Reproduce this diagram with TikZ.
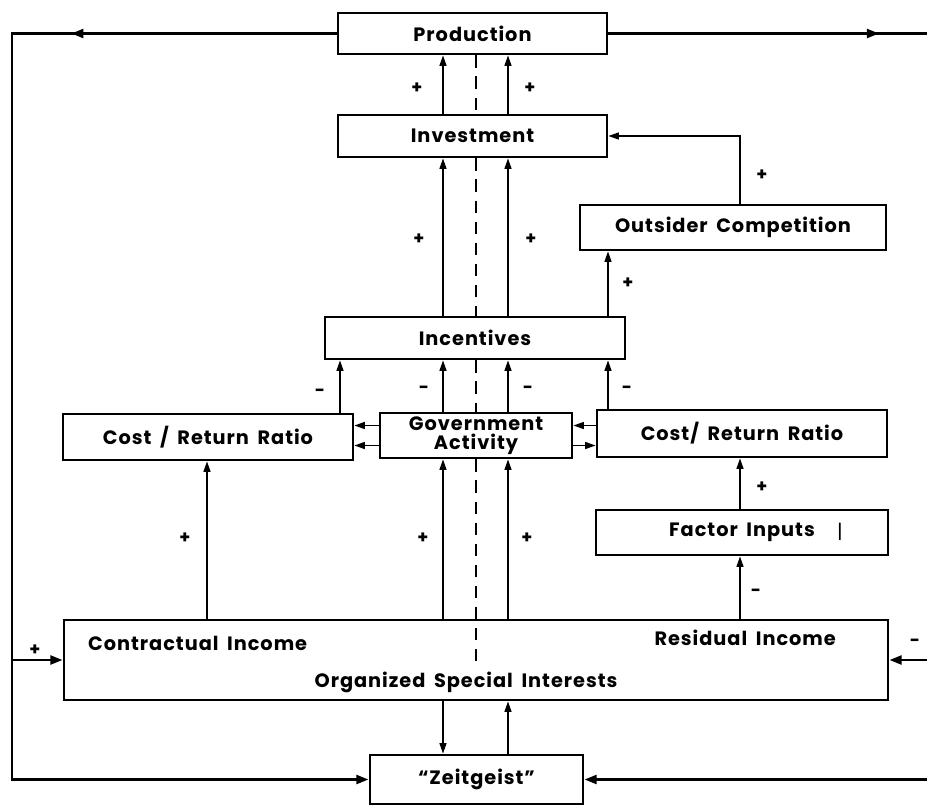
\documentclass[tikz,border=0pt]{standalone}
\usepackage{fontspec}
\setmainfont{Poppins}
\newfontfamily\boxfont{Poppins}[Ligatures=TeX, LetterSpace=5, WordSpace=1.7]
\usetikzlibrary{positioning}
\usetikzlibrary{calc}
\usetikzlibrary{arrows.meta}
\usetikzlibrary{decorations.markings}

\begin{document}
\begin{tikzpicture}[
    x=0.02cm, y=-0.02cm,
    boxtext/.style={font=\boxfont\bfseries\fontsize{11}{12}\selectfont},
    box/.style={draw, rectangle, line width=1.6pt, fill=white, inner sep=0pt, boxtext},
    link/.style={line width=0.8pt, -{Triangle[length=6pt,width=4pt]}},
    loopline/.style={line width=1.6pt},
    looptip/.style={-{Triangle[length=7pt,width=5pt]}},
    dashline/.style={line width=1.1pt, dash pattern=on 7pt off 5pt},
    sign/.style={inner sep=1pt, font=\bfseries\fontsize{10}{10}\selectfont},
    midarrow/.style={postaction={decorate}, decoration={markings, mark=at position #1 with {\arrow{Triangle[length=7pt,width=5pt]}}}}
  ]
    \useasboundingbox (0,0) rectangle (927,806);

    % boxes
    \node[box, minimum width=5.38cm, minimum height=0.82cm] (prod) at (472.5,33.5) {Production};
    \node[box, minimum width=5.38cm, minimum height=0.84cm] (inv) at (472.5,136) {Investment};
    \node[box, minimum width=6.12cm, minimum height=0.90cm] (outs) at (733,227.5) {Outsider Competition};
    \node[box, minimum width=6.00cm, minimum height=0.84cm] (inc) at (475,338) {Incentives};
    \node[box, minimum width=5.80cm, minimum height=0.92cm] (crl) at (208,437) {Cost / Return Ratio};
    \node[box, minimum width=3.84cm, minimum height=0.90cm, align=center,
          font=\boxfont\bfseries\fontsize{11}{11}\selectfont] (gov) at (476,435.5) {Government\\Activity};
    \node[box, minimum width=5.80cm, minimum height=0.94cm] (crr) at (742,433.5) {Cost/ Return Ratio};
    \node[box, minimum width=5.84cm, minimum height=0.90cm] (fac) at (742,532.5) {Factor Inputs};
    \node[font=\fontsize{11}{11}\selectfont] (facbar) at (840,532) {|};
    \node[box, minimum width=16.48cm, minimum height=1.60cm] (osi) at (476,660) {};
    \node[box, minimum width=4.26cm, minimum height=0.98cm] (zeit) at (476.5,779.5) {``Zeitgeist''};

    % texts inside the interest box
    \node[boxtext, anchor=west] (contr) at (82,643) {Contractual Income};
    \node[boxtext, anchor=east] (resid) at (842,638) {Residual Income};
    \node[boxtext] (osilabel) at (466,682) {Organized Special Interests};

    % columns
    \coordinate (ca) at (443,0);
    \coordinate (cb) at (508,0);
    \coordinate (cd) at (476,0);
    \coordinate (cl) at (207,0);
    \coordinate (ci) at (340,0);
    \coordinate (cr) at (608,0);
    \coordinate (cf) at (740,0);
    \coordinate (ce) at (12,0);
    \coordinate (cw) at (927,0);

    % dashed divide
    \draw[dashline] (prod.south -| cd) -- (inv.north -| cd);
    \draw[dashline] (inv.south -| cd) -- (inc.north -| cd);
    \draw[dashline] (inc.south -| cd) -- (gov.north -| cd);
    \draw[dashline] (gov.south -| cd) -- (osi.north -| cd) -- ++(0,45);

    % upper links
    \draw[link] (inv.north -| ca) -- (prod.south -| ca);
    \draw[link] (inv.north -| cb) -- (prod.south -| cb);
    \draw[link] (inc.north -| ca) -- (inv.south -| ca);
    \draw[link] (inc.north -| cb) -- (inv.south -| cb);
    \draw[link] (inc.north -| cr) -- (outs.south -| cr);
    \draw[link] (outs.north -| cf) |- (inv.east);

    \draw[link] (crl.north -| ci) -- (inc.south -| ci);
    \draw[link] (gov.north -| ca) -- (inc.south -| ca);
    \draw[link] (gov.north -| cb) -- (inc.south -| cb);
    \draw[link] (crr.north -| cr) -- (inc.south -| cr);

    \draw[link] ([yshift=0.2cm]gov.west) -- ([yshift=0.2cm]gov.west -| crl.east);
    \draw[link] ([yshift=-0.2cm]gov.west) -- ([yshift=-0.2cm]gov.west -| crl.east);
    \draw[link] ([yshift=0.2cm]gov.east -| crr.west) -- ([yshift=0.2cm]gov.east);
    \draw[link] ([yshift=-0.2cm]gov.east) -- ([yshift=-0.2cm]gov.east -| crr.west);

    % lower links
    \draw[link] (fac.north -| cf) -- (crr.south -| cf);
    \draw[link] (osi.north -| cf) -- (fac.south -| cf);
    \draw[link] (osi.north -| cl) -- (crl.south -| cl);
    \draw[link] (osi.north -| ca) -- (gov.south -| ca);
    \draw[link] (osi.north -| cb) -- (gov.south -| cb);
    \draw[link] (osi.south -| ca) -- (zeit.north -| ca);
    \draw[link] (zeit.north -| cb) -- (osi.south -| cb);

    % outer loop
    \draw[loopline, looptip, midarrow=0.186] (prod.west) -- (prod.west -| ce) -- (zeit.west -| ce) -- (zeit.west);
    \draw[loopline, looptip] (osi.west -| ce) -- (osi.west);
    \draw[loopline, midarrow=0.85] (prod.east) -- (prod.east -| cw);
    \draw[loopline, looptip] (osi.east -| cw) -- (osi.east);
    \draw[loopline, looptip] (zeit.east -| cw) -- (zeit.east);

    % signs
    \foreach \px/\py/\s [count=\i] in {417/88/+, 530/88/+, 419/239/+, 531/239/+,
        762/175/+, 628/283/+, 320/393/-, 424/390/-, 528/390/-, 627/390/-,
        762/487/+, 756/593/-, 185/538/+, 423/538/+, 527/538/+, 35/650/+, 915/643/-}
      \node[sign] (sign\i) at (\px,\py) {\s};
  \end{tikzpicture}
\end{document}
